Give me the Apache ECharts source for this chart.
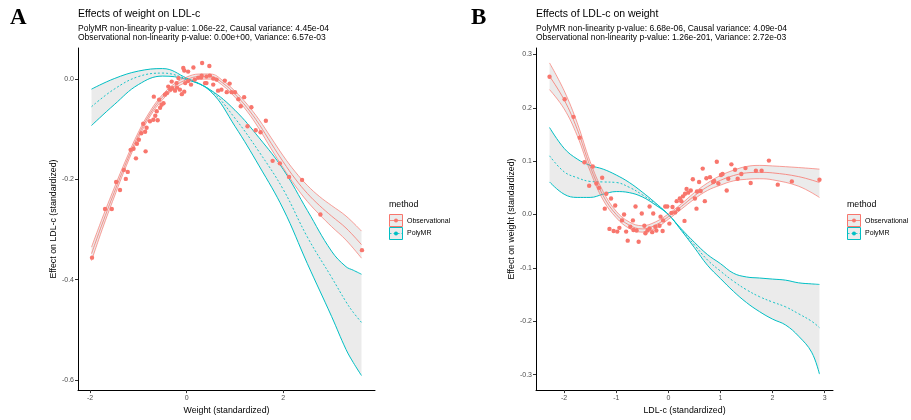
<!DOCTYPE html>
<html><head><meta charset="utf-8">
<script src="https://cdn.jsdelivr.net/npm/echarts@6/dist/echarts.min.js"></script>
<style>html,body{margin:0;padding:0;background:#fff}#c{width:911px;height:420px}</style>
</head><body><div id="c"></div>
<script>
// ---------- Panel A data: effects of weight on LDL-c ----------
const aObsPtsX = [-1.96,-1.69,-1.55,-1.46,-1.38,-1.30,-1.22,-1.26,-1.16,-1.10,-1.05,-0.85,-1.03,-0.99,-0.94,-0.86,-0.90,-0.83,-0.76,-0.69,-0.65,-0.60,-0.62,-0.55,-0.52,-0.48,-0.57,-0.68,-0.45,-0.41,-0.34,-0.38,-0.30,-0.24,-0.20,-0.14,-0.10,-0.31,-0.21,-0.05,-0.07,-0.05,0.03,0.14,0.32,0.47,-0.03,0.03,0.17,0.24,0.30,0.38,0.09,-0.17,0.31,0.41,0.48,0.55,0.62,0.79,0.89,0.41,0.55,0.65,0.72,0.83,0.93,1.00,1.07,1.19,1.12,1.34,1.64,1.26,1.43,1.53,1.78,1.93,2.12,2.39,2.77,3.63];
const aObsPtsY = [-0.356,-0.259,-0.259,-0.205,-0.221,-0.181,-0.185,-0.199,-0.141,-0.139,-0.158,-0.144,-0.129,-0.121,-0.108,-0.105,-0.089,-0.097,-0.084,-0.081,-0.073,-0.082,-0.064,-0.057,-0.051,-0.048,-0.041,-0.035,-0.031,-0.028,-0.021,-0.015,-0.018,-0.023,-0.017,-0.021,-0.030,-0.005,-0.008,-0.025,0.022,0.017,0.015,0.023,0.032,0.026,-0.008,-0.004,-0.001,0.003,0.003,-0.008,-0.011,0.002,0.007,0.005,0.007,0.001,-0.001,-0.003,-0.009,-0.008,-0.011,-0.023,-0.021,-0.026,-0.026,-0.026,-0.040,-0.036,-0.054,-0.056,-0.083,-0.094,-0.102,-0.106,-0.163,-0.168,-0.195,-0.201,-0.270,-0.341];

const aObsFitX   = [-1.97,-1.75,-1.5,-1.25,-1.0,-0.75,-0.5,-0.25,0,0.25,0.5,0.75,1.0,1.25,1.5,1.75,2.0,2.25,2.5,2.75,3.0,3.3,3.62];
const aObsFitMid = [-0.348,-0.289,-0.226,-0.166,-0.112,-0.068,-0.036,-0.014,-0.001,0.005,0.005,-0.008,-0.030,-0.057,-0.090,-0.128,-0.165,-0.199,-0.228,-0.252,-0.273,-0.297,-0.330];
const aObsFitUp  = [-0.335,-0.278,-0.217,-0.159,-0.106,-0.063,-0.031,-0.009,0.004,0.010,0.010,-0.003,-0.024,-0.050,-0.081,-0.117,-0.153,-0.185,-0.212,-0.234,-0.252,-0.273,-0.303];
const aObsFitLo  = [-0.362,-0.300,-0.235,-0.173,-0.118,-0.073,-0.041,-0.019,-0.006,0.000,0.000,-0.013,-0.036,-0.064,-0.099,-0.139,-0.177,-0.213,-0.244,-0.270,-0.294,-0.321,-0.357];

const aPolyX   = [-1.97,-1.5,-1.0,-0.5,0,0.5,1.0,1.5,2.0,2.5,3.0,3.3,3.45,3.62];
const aPolyMid = [-0.055,-0.020,0.005,0.012,0.000,-0.023,-0.078,-0.145,-0.220,-0.315,-0.395,-0.444,-0.465,-0.485];
const aPolyUp  = [-0.020,0.001,0.016,0.021,0.002,-0.022,-0.062,-0.117,-0.180,-0.262,-0.343,-0.374,-0.381,-0.389];
const aPolyLo  = [-0.0925,-0.051,-0.011,0.006,-0.001,-0.025,-0.094,-0.173,-0.259,-0.368,-0.473,-0.539,-0.565,-0.591];

const aTicksX = [-2, 0, 2];
const aTickLabelsX = ['-2', '0', '2'];
const aTicksY = [-0.6, -0.4, -0.2, 0];
const aTickLabelsY = ['-0.6', '-0.4', '-0.2', '0.0'];

// ---------- Panel B data: effects of LDL-c on weight ----------
const bObsPtsX = [-2.28,-1.99,-1.82,-1.70,-1.61,-1.45,-1.52,-1.38,-1.33,-1.27,-1.19,-1.22,-1.10,-1.02,-1.13,-1.05,-0.98,-0.94,-0.89,-0.85,-0.81,-0.78,-0.73,-0.68,-0.67,-0.63,-0.61,-0.57,-0.51,-0.46,-0.44,-0.40,-0.36,-0.36,-0.31,-0.29,-0.25,-0.23,-0.17,-0.15,-0.11,-0.10,-0.06,-0.02,0.02,0.06,0.08,0.13,0.16,0.19,0.22,0.25,0.31,0.28,0.32,0.35,0.38,0.43,0.47,0.51,0.54,0.55,0.59,0.62,0.66,0.70,0.73,0.80,0.86,0.88,0.93,0.96,1.01,1.04,1.12,1.15,1.21,1.28,1.33,1.40,1.48,1.58,1.68,1.79,1.93,2.10,2.37,2.90];
const bObsPtsY = [0.258,0.216,0.183,0.144,0.098,0.090,0.054,0.058,0.050,0.069,0.039,0.011,0.030,0.017,-0.027,-0.031,-0.032,-0.025,-0.011,0.000,-0.032,-0.049,-0.023,-0.011,-0.029,0.015,-0.030,-0.051,0.002,-0.021,-0.035,-0.030,0.015,-0.026,-0.033,0.002,-0.023,-0.030,-0.021,-0.004,-0.031,-0.011,0.015,0.015,-0.017,0.003,0.014,0.004,0.025,0.010,0.030,0.025,-0.012,0.034,0.039,0.048,0.041,0.045,0.066,0.030,0.011,0.043,0.061,0.044,0.086,0.025,0.068,0.070,0.061,0.063,0.099,0.058,0.074,0.076,0.045,0.067,0.094,0.084,0.067,0.076,0.087,0.059,0.082,0.082,0.101,0.056,0.062,0.065];

const bObsFitX   = [-2.28,-2.0,-1.75,-1.5,-1.25,-1.0,-0.75,-0.5,-0.25,0,0.25,0.5,0.75,1.0,1.25,1.5,1.75,2.0,2.5,2.9];
const bObsFitMid = [0.259,0.215,0.160,0.090,0.035,0.000,-0.020,-0.027,-0.020,-0.004,0.015,0.035,0.052,0.064,0.073,0.078,0.079,0.078,0.071,0.060];
const bObsFitUp  = [0.284,0.232,0.172,0.099,0.043,0.006,-0.014,-0.021,-0.014,0.001,0.020,0.041,0.059,0.073,0.083,0.090,0.092,0.091,0.088,0.085];
const bObsFitLo  = [0.234,0.198,0.148,0.081,0.027,-0.006,-0.026,-0.033,-0.026,-0.009,0.010,0.029,0.045,0.055,0.063,0.066,0.067,0.065,0.053,0.032];

const bPolyX   = [-2.28,-2.0,-1.75,-1.5,-1.25,-1.0,-0.75,-0.5,-0.25,0,0.25,0.5,0.75,1.0,1.25,1.5,1.75,2.0,2.25,2.5,2.75,2.9];
const bPolyMid = [0.110,0.080,0.069,0.062,0.061,0.060,0.051,0.037,0.020,0.000,-0.029,-0.057,-0.085,-0.106,-0.125,-0.141,-0.154,-0.164,-0.173,-0.186,-0.200,-0.212];
const bPolyUp  = [0.163,0.124,0.104,0.092,0.085,0.074,0.060,0.042,0.022,0.000,-0.027,-0.052,-0.075,-0.092,-0.110,-0.117,-0.119,-0.121,-0.123,-0.128,-0.130,-0.131];
const bPolyLo  = [0.061,0.038,0.032,0.032,0.038,0.043,0.041,0.033,0.018,0.000,-0.030,-0.062,-0.095,-0.120,-0.144,-0.165,-0.182,-0.196,-0.207,-0.228,-0.258,-0.299];

const bTicksX = [-2, -1, 0, 1, 2, 3];
const bTickLabelsX = ['-2', '-1', '0', '1', '2', '3'];
const bTicksY = [-0.3, -0.2, -0.1, 0, 0.1, 0.2, 0.3];
const bTickLabelsY = ['-0.3', '-0.2', '-0.1', '0.0', '0.1', '0.2', '0.3'];

// ---------- styling ----------
const RED = '#F8766D', TEAL = '#00BFC4';
const RIBBON = 'rgba(153,153,153,0.2)';
const FONT = 'Liberation Sans';
const SMOOTH = 0.4;

const zip = (xs, ys) => xs.map((x, i) => [x, ys[i]]);

function lookup(vals, labels) {
  return v => { const i = vals.findIndex(t => Math.abs(t - v) < 1e-9); return i >= 0 ? labels[i] : ''; };
}

// sample the same bezier smoothing that ECharts line series use (screen space)
function smoothPts(p, s) {
  const n = p.length, out = [p[0]];
  const cps = p.map((pt, i) => {
    if (i === 0 || i === n - 1) return [pt, pt];
    const pr = p[i - 1], nx = p[i + 1];
    const vx = nx[0] - pr[0], vy = nx[1] - pr[1];
    const l0 = Math.hypot(pt[0] - pr[0], pt[1] - pr[1]);
    const l1 = Math.hypot(nx[0] - pt[0], nx[1] - pt[1]);
    const r = l1 / (l0 + l1 || 1);
    return [[pt[0] - vx * s * (1 - r), pt[1] - vy * s * (1 - r)], [pt[0] + vx * s * r, pt[1] + vy * s * r]];
  });
  for (let i = 0; i < n - 1; i++) {
    const a = p[i], c1 = cps[i][1], c2 = cps[i + 1][0], b = p[i + 1];
    for (let k = 1; k <= 12; k++) {
      const t = k / 12, u = 1 - t;
      out.push([
        u*u*u*a[0] + 3*u*u*t*c1[0] + 3*u*t*t*c2[0] + t*t*t*b[0],
        u*u*u*a[1] + 3*u*u*t*c1[1] + 3*u*t*t*c2[1] + t*t*t*b[1]
      ]);
    }
  }
  return out;
}

function xAxis(idx, min, max, ticks, labels, name) {
  return {
    type: 'value', gridIndex: idx, min, max,
    name, nameLocation: 'middle', nameGap: 13,
    nameTextStyle: { fontFamily: FONT, fontSize: 8.8, color: '#000' },
    axisLine: { show: true, onZero: false, lineStyle: { color: '#000', width: 1 } },
    axisTick: { show: true, length: 3, customValues: ticks, lineStyle: { color: '#333', width: 1 } },
    axisLabel: { customValues: ticks, formatter: lookup(ticks, labels), margin: 4, fontFamily: FONT, fontSize: 7, color: '#4D4D4D' },
    splitLine: { show: false }
  };
}
function yAxis(idx, min, max, ticks, labels, name) {
  return {
    type: 'value', gridIndex: idx, min, max,
    name, nameLocation: 'middle', nameGap: 17, nameRotate: 90,
    nameTextStyle: { fontFamily: FONT, fontSize: 8.8, color: '#000' },
    axisLine: { show: true, onZero: false, lineStyle: { color: '#000', width: 1 } },
    axisTick: { show: true, length: 3, customValues: ticks, lineStyle: { color: '#333', width: 1 } },
    axisLabel: { customValues: ticks, formatter: lookup(ticks, labels), margin: 4, fontFamily: FONT, fontSize: 7, color: '#4D4D4D' },
    splitLine: { show: false }
  };
}

function ribbon(idx, xs, up, lo) {
  return {
    type: 'custom', xAxisIndex: idx, yAxisIndex: idx, silent: true, animation: false, z: 1,
    data: zip(xs, up),
    renderItem: (params, api) => {
      if (params.dataIndexInside !== 0) return null;
      const top = smoothPts(xs.map((x, i) => api.coord([x, up[i]])), SMOOTH);
      const bot = smoothPts(xs.map((x, i) => api.coord([x, lo[i]])), SMOOTH).reverse();
      return { type: 'polygon', shape: { points: top.concat(bot) }, style: { fill: RIBBON, stroke: null } };
    }
  };
}
function bandSeries(idx, xs, up, mid, lo, color, dashed, wBound, wMid) {
  const base = { xAxisIndex: idx, yAxisIndex: idx, type: 'line', showSymbol: false, symbol: 'none', smooth: SMOOTH, silent: true, animation: false, z: 3 };
  return [
    ribbon(idx, xs, up, lo),
    Object.assign({}, base, { data: zip(xs, lo), lineStyle: { color, width: wBound } }),
    Object.assign({}, base, { data: zip(xs, up), lineStyle: { color, width: wBound } }),
    Object.assign({}, base, { data: zip(xs, mid), lineStyle: { color, width: wMid, type: dashed ? [2, 2] : 'solid' } })
  ];
}
function pointSeries(idx, xs, ys) {
  return { type: 'scatter', xAxisIndex: idx, yAxisIndex: idx, data: zip(xs, ys), symbolSize: 4.4, itemStyle: { color: RED, opacity: 1 }, z: 4, silent: true, animation: false };
}

function legend(x0) {
  const t = (x, y, s, size) => ({ type: 'text', x, y, style: { text: s, fontFamily: FONT, fontSize: size, fill: '#000', verticalAlign: 'middle', align: 'left' } });
  const key = (y, color, dashed) => [
    { type: 'rect', shape: { x: x0 + 0.5, y: y - 6, width: 13, height: 12 }, style: { fill: RIBBON, stroke: color, lineWidth: 1 } },
    { type: 'line', shape: { x1: x0 + 0.5, y1: y, x2: x0 + 13.5, y2: y }, style: { stroke: color, lineWidth: 0.8, lineDash: dashed ? [2, 2] : null } },
    { type: 'circle', shape: { cx: x0 + 7, cy: y, r: 2 }, style: { fill: color } }
  ];
  return [t(x0, 204.5, 'method', 8.8)]
    .concat(key(220.5, RED, false), [t(x0 + 18, 220.7, 'Observational', 7)])
    .concat(key(233.5, TEAL, true), [t(x0 + 18, 233.5, 'PolyMR', 7)]);
}

const SUB = 8.5;
const chart = echarts.init(document.getElementById('c'), null, { renderer: 'canvas' });
chart.setOption({
  animation: false,
  backgroundColor: '#fff',
  title: [
    { text: 'A', left: 10, top: 7, padding: 0, textStyle: { fontFamily: 'Liberation Serif', fontWeight: 'bold', fontSize: 23, color: '#000' } },
    { text: 'Effects of weight on LDL-c', left: 78, top: 9, padding: 0, textStyle: { fontFamily: FONT, fontWeight: 'normal', fontSize: 10.5, color: '#000' } },
    { text: 'PolyMR non-linearity p-value: 1.06e-22, Causal variance: 4.45e-04', left: 78, top: 24, padding: 0, textStyle: { fontFamily: FONT, fontWeight: 'normal', fontSize: SUB, color: '#000' } },
    { text: 'Observational non-linearity p-value: 0.00e+00, Variance: 6.57e-03', left: 78, top: 33, padding: 0, textStyle: { fontFamily: FONT, fontWeight: 'normal', fontSize: SUB, color: '#000' } },
    { text: 'B', left: 471, top: 7, padding: 0, textStyle: { fontFamily: 'Liberation Serif', fontWeight: 'bold', fontSize: 23, color: '#000' } },
    { text: 'Effects of LDL-c on weight', left: 536, top: 9, padding: 0, textStyle: { fontFamily: FONT, fontWeight: 'normal', fontSize: 10.5, color: '#000' } },
    { text: 'PolyMR non-linearity p-value: 6.68e-06, Causal variance: 4.09e-04', left: 536, top: 24, padding: 0, textStyle: { fontFamily: FONT, fontWeight: 'normal', fontSize: SUB, color: '#000' } },
    { text: 'Observational non-linearity p-value: 1.26e-201, Variance: 2.72e-03', left: 536, top: 33, padding: 0, textStyle: { fontFamily: FONT, fontWeight: 'normal', fontSize: SUB, color: '#000' } }
  ],
  grid: [
    { left: 78, top: 48, width: 297, height: 345, containLabel: false },
    { left: 536, top: 48, width: 297, height: 345, containLabel: false }
  ],
  xAxis: [
    xAxis(0, -2.25, 3.9, aTicksX, aTickLabelsX, 'Weight (standardized)'),
    xAxis(1, -2.54, 3.16, bTicksX, bTickLabelsX, 'LDL-c (standardized)')
  ],
  yAxis: [
    yAxis(0, -0.62, 0.062, aTicksY, aTickLabelsY, 'Effect on LDL-c (standardized)'),
    yAxis(1, -0.329, 0.312, bTicksY, bTickLabelsY, 'Effect on weight (standardized)')
  ],
  series: [].concat(
    bandSeries(0, aPolyX, aPolyUp, aPolyMid, aPolyLo, TEAL, true, 1, 0.9),
    bandSeries(0, aObsFitX, aObsFitUp, aObsFitMid, aObsFitLo, RED, false, 0.7, 0.8),
    [pointSeries(0, aObsPtsX, aObsPtsY)],
    bandSeries(1, bPolyX, bPolyUp, bPolyMid, bPolyLo, TEAL, true, 1, 0.9),
    bandSeries(1, bObsFitX, bObsFitUp, bObsFitMid, bObsFitLo, RED, false, 0.7, 0.8),
    [pointSeries(1, bObsPtsX, bObsPtsY)]
  ),
  graphic: legend(389).concat(legend(847))
});
</script>
</body></html>
